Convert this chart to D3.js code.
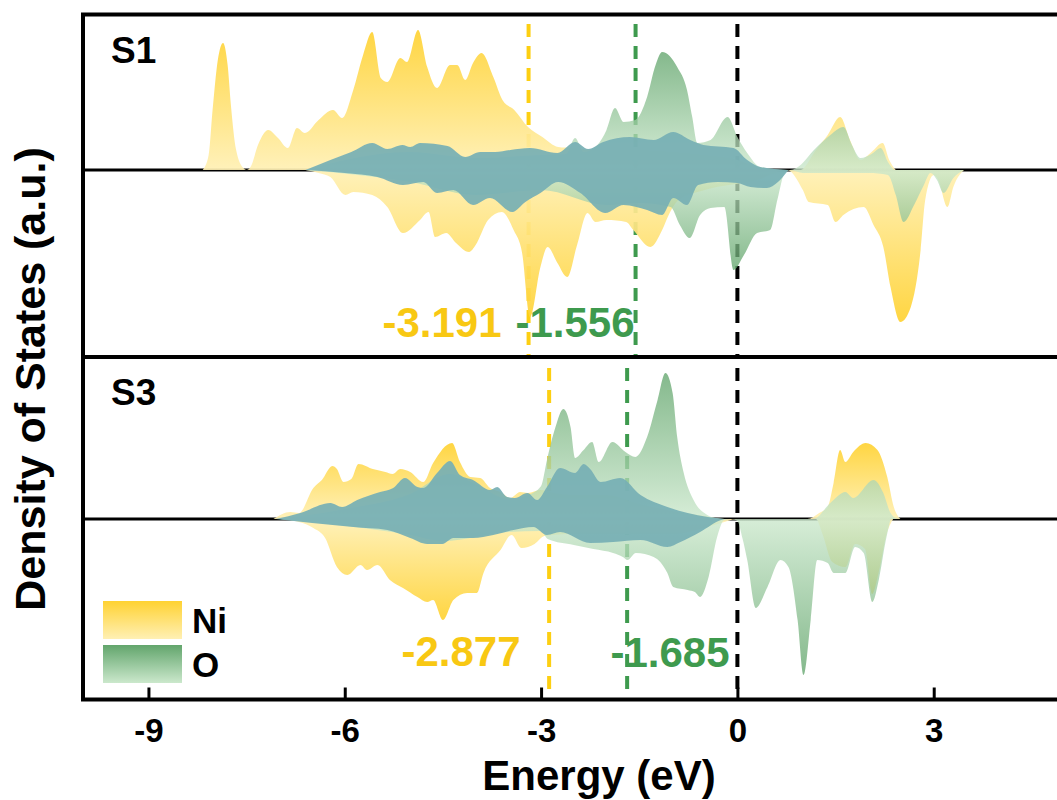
<!DOCTYPE html>
<html><head><meta charset="utf-8">
<script src="https://cdn.jsdelivr.net/npm/d3@7"></script>
<style>
body{margin:0;background:#fff}
svg{display:block}
text{font-family:"Liberation Sans",Arial,Helvetica,sans-serif;font-weight:bold}
</style>
</head><body>
<svg id="chart" width="1057" height="800"></svg>
<script>
// ---------------- DATA (energy eV, DOS a.u.) ----------------
const energyTicks = [-9, -6, -3, 0, 3];
const panelNames = ["S1", "S3"];
const legendNames = ["Ni", "O"];
const s1Centers = [-3.191, -1.556];   // Ni d-band centre, O p-band centre
const s3Centers = [-2.877, -1.685];
const fermiLevel = 0;

// S1
const s1NiUp = [[-8.17,0],[-8.08,1.5],[-8.02,6],[-7.94,11],[-7.86,12.7],[-7.79,10.5],[-7.74,6.5],[-7.66,2],[-7.55,0.2],[-7.5,0],[-7.44,0.3],[-7.32,2.6],[-7.17,4.0],[-7.02,3.2],[-6.87,2.2],[-6.73,4.2],[-6.61,3.7],[-6.4,5.0],[-6.18,6.0],[-6.04,5.2],[-5.87,8.0],[-5.72,11.5],[-5.58,13.8],[-5.45,9.2],[-5.35,8.8],[-5.15,11.2],[-5.05,10.8],[-4.88,14.0],[-4.74,10.3],[-4.59,8.2],[-4.39,10.5],[-4.28,10.5],[-4.16,9.0],[-4.04,10.7],[-3.91,11.7],[-3.73,9.3],[-3.59,7.0],[-3.41,6.0],[-3.2,4.3],[-2.98,3.3],[-2.74,2.3],[-2.52,2.2],[-2.2,2.0],[-1.6,2.0],[-1.0,1.8],[-0.5,1.5],[0.0,1.0],[0.3,0.3],[0.6,0],[0.96,0],[1.2,2.0],[1.38,3.5],[1.57,5.3],[1.72,3.0],[1.88,1.0],[2.05,1.8],[2.22,2.7],[2.32,1.0],[2.42,0]];
const s1NiDown = [[-6.6,0],[-6.4,-0.3],[-6.22,-0.7],[-5.99,-2.5],[-5.87,-2.2],[-5.58,-2.5],[-5.35,-3.7],[-5.11,-6.3],[-4.85,-5.0],[-4.72,-4.2],[-4.62,-6.7],[-4.45,-6.3],[-4.3,-7.3],[-4.1,-8.2],[-4.0,-7.5],[-3.81,-5.0],[-3.6,-4.2],[-3.42,-6.0],[-3.29,-8.3],[-3.17,-14.7],[-3.01,-9.7],[-2.9,-7.7],[-2.75,-9.3],[-2.6,-10.7],[-2.45,-7.5],[-2.29,-4.3],[-2.17,-5.2],[-2.0,-5.0],[-1.7,-5.2],[-1.59,-6.0],[-1.33,-7.7],[-1.15,-6.0],[-1.05,-4.5],[-0.9,-3],[-0.5,-2],[0.3,-1],[0.76,0],[1.0,-2.0],[1.09,-3.2],[1.38,-3.5],[1.5,-5.2],[1.62,-4.5],[1.93,-3.7],[2.08,-5.5],[2.23,-7.7],[2.34,-11.7],[2.49,-15.2],[2.65,-13.7],[2.8,-8.0],[2.87,-3.0],[3.0,-0.5],[3.07,-1.0],[3.21,-3.7],[3.3,-1.7],[3.46,0]];
const s1OUp = [[-6.6,0],[-6.0,1],[-5.0,1.8],[-4.0,1.2],[-3.0,1.5],[-2.62,1.6],[-2.48,3.2],[-2.35,1.8],[-2.14,2.5],[-2.0,4.0],[-1.87,6.2],[-1.74,4.8],[-1.56,5.0],[-1.38,7.3],[-1.25,10.5],[-1.15,11.8],[-0.92,10.3],[-0.77,8.0],[-0.69,5.3],[-0.61,2.7],[-0.41,3.0],[-0.15,5.3],[0.0,3.3],[0.15,1.7],[0.35,0.3],[0.8,0],[0.9,0.2],[1.2,2.2],[1.42,3.5],[1.62,4.3],[1.75,2.5],[1.88,1.2],[2.05,1.6],[2.19,2.2],[2.3,0.8],[2.39,0]];
const s1ODown = [[-6.6,0],[-5.0,-1.2],[-4.0,-2.5],[-3.0,-2.0],[-2.0,-3.5],[-1.5,-3.3],[-1.02,-3.7],[-0.88,-5.5],[-0.73,-6.8],[-0.57,-4.5],[-0.41,-3.8],[-0.2,-3.7],[-0.06,-10.0],[0.1,-8.5],[0.3,-6.3],[0.5,-6.0],[0.61,-3.0],[0.73,-0.2],[0.81,0],[1.0,-0.3],[2.0,-0.3],[2.3,-0.5],[2.42,-2.5],[2.54,-5.2],[2.7,-3.5],[2.85,-1.5],[2.95,-0.3],[3.05,-1.0],[3.15,-2.3],[3.3,-0.8],[3.46,0]];
const s1HybUp = [[-6.6,0],[-6.22,1.0],[-5.9,1.8],[-5.58,2.7],[-5.35,2.1],[-5.12,2.5],[-5.0,2.3],[-4.85,2.7],[-4.43,2.4],[-4.16,1.3],[-3.93,1.8],[-3.7,1.8],[-3.47,2.0],[-3.17,2.2],[-2.75,1.7],[-2.48,2.8],[-2.28,2.1],[-2.05,2.8],[-1.64,3.3],[-1.28,3.0],[-0.98,3.8],[-0.72,3.0],[-0.52,2.5],[-0.06,2.2],[0.15,1.0],[0.35,0.3],[0.76,0]];
const s1HybDown = [[-6.6,0],[-6.0,-0.3],[-5.5,-0.7],[-5.11,-1.5],[-4.8,-1.2],[-4.59,-2.3],[-4.34,-2.0],[-4.04,-3.5],[-3.78,-2.8],[-3.44,-4.2],[-3.24,-3.2],[-3.01,-2.3],[-2.74,-1.2],[-2.4,-2.3],[-2.02,-4.3],[-1.74,-3.5],[-1.38,-4.0],[-1.15,-4.5],[-0.98,-2.8],[-0.77,-3.5],[-0.6,-1.5],[-0.3,-1.2],[0.0,-1.3],[0.2,-1.7],[0.45,-1.8],[0.62,-1.2],[0.78,0]];

// S3
const s3NiUp = [[-7.09,0],[-6.83,0.7],[-6.7,0.6],[-6.48,3.1],[-6.35,3.9],[-6.19,5.3],[-6.12,5.0],[-6.02,3.7],[-5.9,4.0],[-5.79,5.5],[-5.57,5.0],[-5.38,4.7],[-5.27,4.5],[-5.15,5.0],[-5.0,4.7],[-4.8,3.7],[-4.65,5.6],[-4.36,7.6],[-4.24,5.7],[-4.08,4.2],[-3.93,4.1],[-3.78,3.1],[-3.62,2.7],[-3.47,2.1],[-3.32,2.7],[-3.2,2.6],[-3.01,2.9],[-2.8,2.6],[-2.5,2.4],[-2.0,2.4],[-1.5,1.5],[-1.0,0.8],[-0.5,0.3],[-0.2,0],[1.07,0],[1.25,0.6],[1.38,1.2],[1.47,3.6],[1.57,6.9],[1.65,5.7],[1.77,6.7],[1.96,7.6],[2.14,6.9],[2.29,4.2],[2.39,1.2],[2.49,0]];
const s3NiDown = [[-7.0,0],[-6.7,-0.3],[-6.48,-0.9],[-6.3,-1.9],[-6.12,-4.8],[-5.96,-5.6],[-5.76,-4.6],[-5.66,-5.1],[-5.5,-4.6],[-5.31,-6.1],[-5.11,-6.9],[-4.89,-7.8],[-4.74,-8.3],[-4.65,-8.1],[-4.5,-10.1],[-4.34,-8.1],[-4.13,-7.4],[-3.98,-7.4],[-3.88,-5.4],[-3.62,-3.1],[-3.45,-1.6],[-3.3,-2.9],[-3.1,-2.5],[-2.95,-1.7],[-2.5,-1.5],[-2.0,-1.5],[-1.0,-1.5],[-0.3,-0.5],[0.0,0],[1.2,0],[1.3,-1.5],[1.45,-4.3],[1.65,-4.8],[1.8,-2.5],[1.95,-3.0],[2.06,-7.5],[2.16,-5.3],[2.28,-1.5],[2.38,0]];
const s3OUp = [[-7.0,0],[-6.0,1.0],[-5.0,2.5],[-4.4,4.5],[-4.0,3.5],[-3.5,2.0],[-3.2,2.4],[-3.0,3.3],[-2.91,5.9],[-2.78,9.2],[-2.66,11.0],[-2.55,9.2],[-2.48,6.1],[-2.35,6.9],[-2.22,7.7],[-2.12,5.7],[-1.91,7.7],[-1.71,6.7],[-1.56,6.2],[-1.38,8.2],[-1.22,11.9],[-1.1,14.6],[-0.99,12.6],[-0.92,8.2],[-0.82,4.6],[-0.67,1.9],[-0.46,0.4],[-0.3,0.05],[-0.2,0],[1.16,0],[1.42,1.6],[1.65,2.7],[1.77,2.1],[2.08,3.9],[2.23,2.6],[2.34,0.6],[2.45,0]];
const s3ODown = [[-7.0,0],[-5.0,-1.6],[-4.5,-2.2],[-3.5,-1.3],[-3.0,-1.2],[-2.9,-2.0],[-2.5,-2.6],[-2.2,-3.0],[-1.9,-3.4],[-1.75,-3.8],[-1.68,-4.1],[-1.55,-3.4],[-1.28,-3.8],[-1.07,-5.4],[-0.98,-6.8],[-0.76,-7.1],[-0.65,-7.3],[-0.57,-7.8],[-0.44,-5.8],[-0.31,-1.8],[-0.2,-0.1],[-0.1,0],[0.0,-0.2],[0.08,-2.0],[0.15,-4.1],[0.28,-8.9],[0.46,-6.8],[0.66,-4.1],[0.78,-4.8],[0.92,-10.1],[1.01,-15.6],[1.12,-10.1],[1.22,-4.1],[1.38,-4.4],[1.47,-5.4],[1.65,-5.4],[1.8,-2.8],[1.93,-3.4],[2.06,-8.3],[2.16,-6.1],[2.26,-2.4],[2.34,0]];
const s3HybUp = [[-7.05,0],[-6.68,0.6],[-6.22,1.6],[-6.04,1.2],[-5.81,1.9],[-5.46,2.7],[-5.26,3.1],[-5.08,4.1],[-4.89,3.2],[-4.8,3.1],[-4.59,4.6],[-4.39,5.8],[-4.24,4.4],[-4.04,3.9],[-3.78,2.9],[-3.67,3.2],[-3.52,2.2],[-3.4,2.1],[-3.21,2.6],[-3.06,1.9],[-2.91,3.2],[-2.71,5.1],[-2.48,4.6],[-2.35,5.5],[-2.25,5.0],[-2.09,3.7],[-1.79,4.1],[-1.48,2.4],[-1.07,1.2],[-0.76,0.6],[-0.45,0.2],[-0.2,0]];
const s3HybDown = [[-7.05,0],[-6.5,-0.4],[-5.87,-0.8],[-5.35,-1.1],[-5.0,-1.9],[-4.74,-2.5],[-4.51,-2.5],[-4.34,-1.9],[-4.04,-1.9],[-3.73,-1.6],[-3.42,-1.1],[-3.12,-0.8],[-2.91,-1.6],[-2.71,-1.3],[-2.25,-2.4],[-1.9,-2.3],[-1.48,-2.1],[-1.07,-2.8],[-0.87,-2.3],[-0.57,-1.3],[-0.25,-0.1],[-0.2,0]];

// ---------------- LAYOUT ----------------
const svg = d3.select("#chart");
const left = 83, right = 1064.6;
const x = d3.scaleLinear().domain([-10, 5]).range([left, right]);
const niDark = "#FFD232", niLight = "#FFF0B4";
const oDark = "#62A56C", oLight = "#CBE8CC";
const hybColor = "#76AFB4";
const yellowLine = "#FDCF12", greenLine = "#3E9A4E";

const defs = svg.append("defs");
function grad(id, c0, c1) {
  const g = defs.append("linearGradient").attr("id", id)
    .attr("x1", 0).attr("y1", 0).attr("x2", 0).attr("y2", 1);
  g.append("stop").attr("offset", "0%").attr("stop-color", c0);
  g.append("stop").attr("offset", "100%").attr("stop-color", c1);
}
grad("niUp", niDark, niLight);
grad("niDown", niLight, niDark);
grad("oUp", oDark, oLight);
grad("oDown", oLight, oDark);

const panels = [
  { name: panelNames[0], top: 14.5, bottom: 357, yDomain: [-18.7, 15.55],
    niUp: s1NiUp, niDown: s1NiDown, oUp: s1OUp, oDown: s1ODown, hybUp: s1HybUp, hybDown: s1HybDown,
    centers: s1Centers, lineTop: 24,
    labels: [{ x: 442, y: 337 }, { x: 575, y: 337 }] },
  { name: panelNames[1], top: 357, bottom: 699.5, yDomain: [-18.05, 16.2],
    niUp: s3NiUp, niDown: s3NiDown, oUp: s3OUp, oDown: s3ODown, hybUp: s3HybUp, hybDown: s3HybDown,
    centers: s3Centers, lineTop: 368,
    labels: [{ x: 461, y: 666 }, { x: 670, y: 667 }] }
];

panels.forEach(p => {
  const y = d3.scaleLinear().domain(p.yDomain).range([p.bottom, p.top]);
  const g = svg.append("g");
  // zero line
  g.append("line").attr("x1", left).attr("x2", right)
    .attr("y1", y(0)).attr("y2", y(0)).attr("stroke", "#000").attr("stroke-width", 3);
  // dashed reference lines
  const dashed = [[p.centers[0], yellowLine], [p.centers[1], greenLine], [fermiLevel, "#000"]];
  dashed.forEach(([e, c]) => {
    g.append("line").attr("x1", x(e)).attr("x2", x(e))
      .attr("y1", p.lineTop).attr("y2", p.bottom)
      .attr("stroke", c).attr("stroke-width", 4).attr("stroke-dasharray", "13,9");
  });
  const area = d3.area().x(d => x(d[0])).y0(y(0)).y1(d => y(d[1])).curve(d3.curveMonotoneX);
  g.append("path").datum(p.niUp).attr("d", area).attr("fill", "url(#niUp)").attr("fill-opacity", 0.92);
  g.append("path").datum(p.niDown).attr("d", area).attr("fill", "url(#niDown)").attr("fill-opacity", 0.92);
  g.append("path").datum(p.oUp).attr("d", area).attr("fill", "url(#oUp)").attr("fill-opacity", 0.78);
  g.append("path").datum(p.oDown).attr("d", area).attr("fill", "url(#oDown)").attr("fill-opacity", 0.78);
  g.append("path").datum(p.hybUp).attr("d", area).attr("fill", hybColor).attr("fill-opacity", 0.92);
  g.append("path").datum(p.hybDown).attr("d", area).attr("fill", hybColor).attr("fill-opacity", 0.92);

  // panel label
  g.append("text").attr("x", 111).attr("y", p.top + 48)
    .attr("font-size", 37).attr("fill", "#000").text(p.name);
  // centre labels
  const labColors = ["#F8C813", "#3E9A4E"];
  p.centers.forEach((c, i) => {
    g.append("text").attr("x", p.labels[i].x).attr("y", p.labels[i].y)
      .attr("text-anchor", "middle").attr("font-size", 42)
      .attr("fill", labColors[i]).text(d3.format(".3f")(c).replace("−", "-"));
  });
});

// frame
const frame = svg.append("g").attr("fill", "none").attr("stroke", "#000").attr("stroke-width", 4);
frame.append("rect").attr("x", left).attr("y", 14.5).attr("width", right - left).attr("height", 699.5 - 14.5);
frame.append("line").attr("x1", left).attr("x2", right).attr("y1", 357).attr("y2", 357);

// x axis
const xAxis = d3.axisBottom(x).tickValues(energyTicks).tickSize(-12).tickPadding(0).tickFormat(d3.format("d"));
const ax = svg.append("g").attr("transform", "translate(0,699.5)").call(xAxis);
ax.select(".domain").remove();
ax.selectAll(".tick line").attr("stroke", "#000").attr("stroke-width", 3);
ax.selectAll(".tick text").attr("font-size", 33).attr("fill", "#000")
  .attr("font-family", "'Liberation Sans', Arial, sans-serif").attr("font-weight", "bold")
  .attr("y", 42).attr("dy", 0)
  .text(d => String(d).replace("−", "-"));

// axis titles
svg.append("text").attr("x", 599).attr("y", 790).attr("text-anchor", "middle")
  .attr("font-size", 42).attr("fill", "#000").text("Energy (eV)");
svg.append("text").attr("transform", "translate(45,379) rotate(-90)").attr("text-anchor", "middle")
  .attr("font-size", 43).attr("fill", "#000").text("Density of States (a.u.)");

// legend
const legend = svg.append("g");
legendNames.forEach((n, i) => {
  const yy = 601 + i * 44;
  legend.append("rect").attr("x", 103).attr("y", yy).attr("width", 79).attr("height", 38)
    .attr("fill", i === 0 ? "url(#niUp)" : "url(#oUp)");
  legend.append("text").attr("x", 192).attr("y", yy + 32).attr("font-size", 35).attr("fill", "#000").text(n);
});
</script>
</body></html>
